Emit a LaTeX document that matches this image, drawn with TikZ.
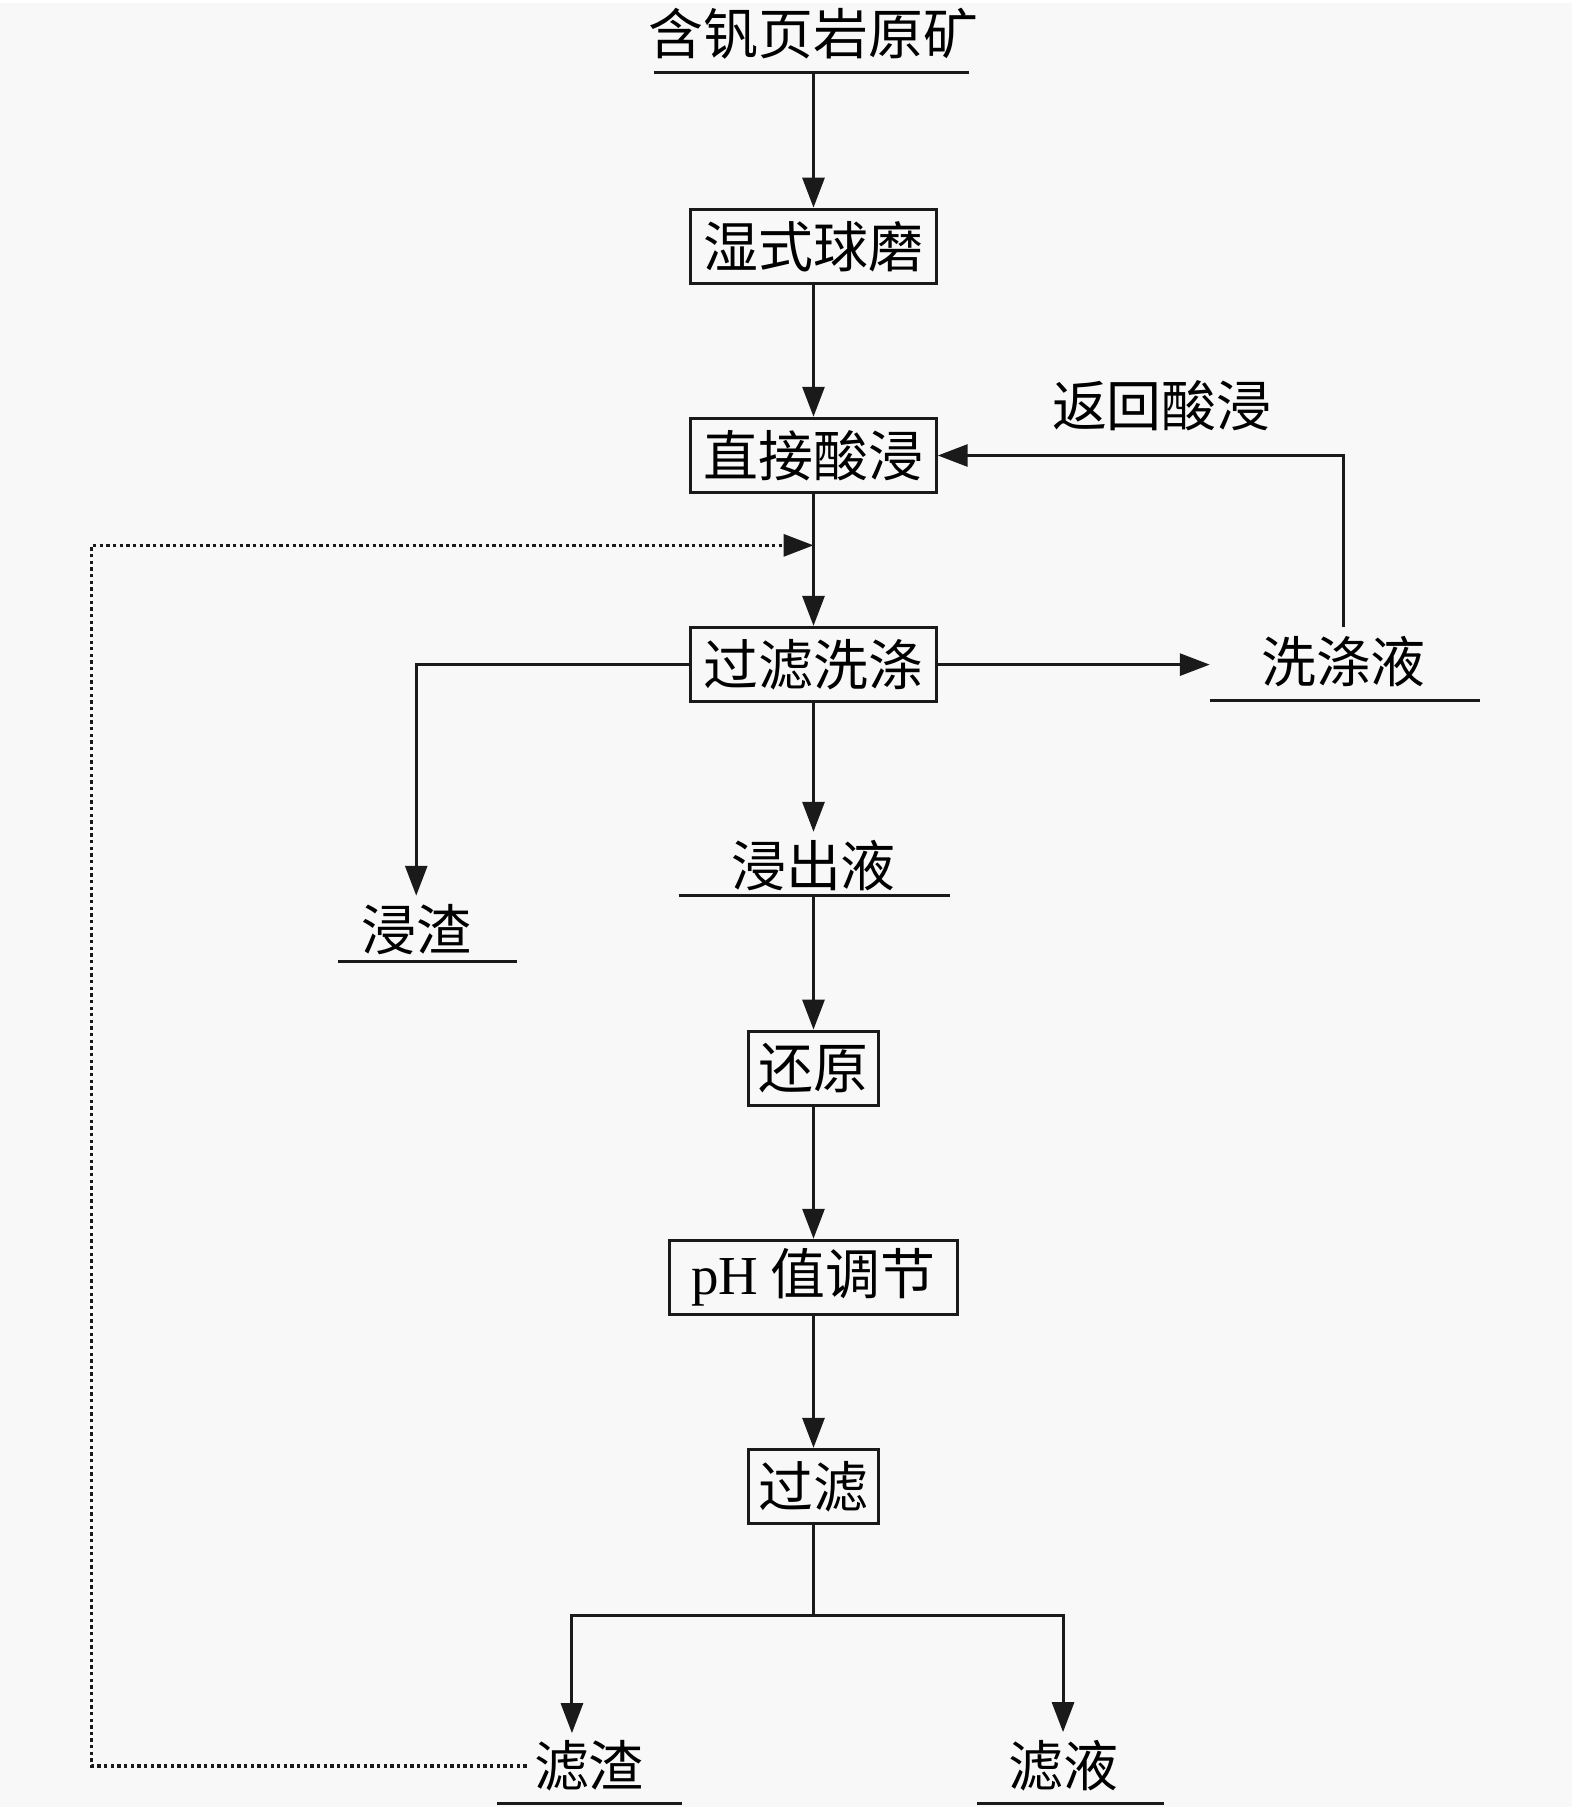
\documentclass[tikz,border=0pt]{standalone}
\usepackage{fontspec}
\setmainfont{Liberation Serif}
\newfontfamily\cjk{Noto Sans CJK SC}
\usetikzlibrary{arrows.meta}
\definecolor{paper}{RGB}{248,248,248}
\definecolor{ink}{RGB}{26,26,26}
\begin{document}
\begin{tikzpicture}[x=0.3pt,y=-0.3pt,
    base/.style={draw=ink,line width=0.9pt},
    flow/.style={base,-{Triangle[length=9pt,width=6.6pt]}},
    recyc/.style={flow,line width=1pt,dash pattern=on 1pt off 1pt},
    proc/.style={base,inner sep=0pt,minimum height=22.4pt,font=\cjk\fontsize{16.5}{18}\selectfont},
    prod/.style={inner sep=0pt,minimum height=20pt,font=\cjk\fontsize{16.5}{18}\selectfont}]
  \fill[paper] (0,0) rectangle (1575,1807);
  % process column
  \node[prod] (ore) at (815,30) {含钒页岩原矿};
  \node[proc,minimum width=73.8pt] (mill) at (815,243.5) {湿式球磨};
  \node[proc,minimum width=73.8pt] (leach) at (815,453) {直接酸浸};
  \node[proc,minimum width=73.8pt] (wash) at (815,662.5) {过滤洗涤};
  \node[prod] (leachliq) at (815,864) {浸出液};
  \node[proc,minimum width=39pt] (reduce) at (815,1067) {还原};
  \node[proc,minimum width=86.7pt] (ph) at (815,1276.5) {{\rmfamily pH}~值调节};
  \node[proc,minimum width=39pt] (filt) at (815,1486) {过滤};
  % side products
  \node[prod] (washliq) at (1346,659) {洗涤液};
  \node[prod] (back) at (1164,403) {返回酸浸};
  \node[prod] (residue) at (417,928) {浸渣};
  \node[prod] (slag) at (590,1766) {滤渣};
  \node[prod] (filtrate) at (1065,1766) {滤液};
  % underlines
  \draw[base] (655,69) -- (971,69);
  \draw[base] (1212,698) -- (1483,698);
  \draw[base] (339,960) -- (518,960);
  \draw[base] (680,894) -- (952,894);
  \draw[base] (498,1803) -- (683,1803);
  \draw[base] (979,1803) -- (1166,1803);
  \coordinate (ore-out) at (815,69);
  \coordinate (liq-out) at (815,894);
  \coordinate (wash-to) at (1212,662.5);
  \coordinate (split) at (815,1615);
  \coordinate (slag-in) at (573,1733);
  \coordinate (rc-corner) at (92,543);
  \coordinate (rc-join) at (815,543);
  % connectors
  \draw[flow] (ore-out) -- (mill);
  \draw[flow] (mill) -- (leach);
  \draw[flow] (leach) -- (wash);
  \draw[flow] (wash) -- (wash-to);
  \draw[flow] (washliq.north) |- (leach.east);
  \draw[flow] (wash.west) -| (residue.north);
  \draw[flow] (wash) -- (leachliq.north);
  \draw[flow] (liq-out) -- (reduce);
  \draw[flow] (reduce) -- (ph);
  \draw[flow] (ph) -- (filt);
  \draw[base] (filt) -- (split);
  \draw[flow] (split) -| (slag-in);
  \draw[flow] (split) -| (filtrate.north);
  \draw[recyc] ([xshift=-2pt]slag.west) -| (rc-corner) -- (rc-join);
\end{tikzpicture}
\end{document}
